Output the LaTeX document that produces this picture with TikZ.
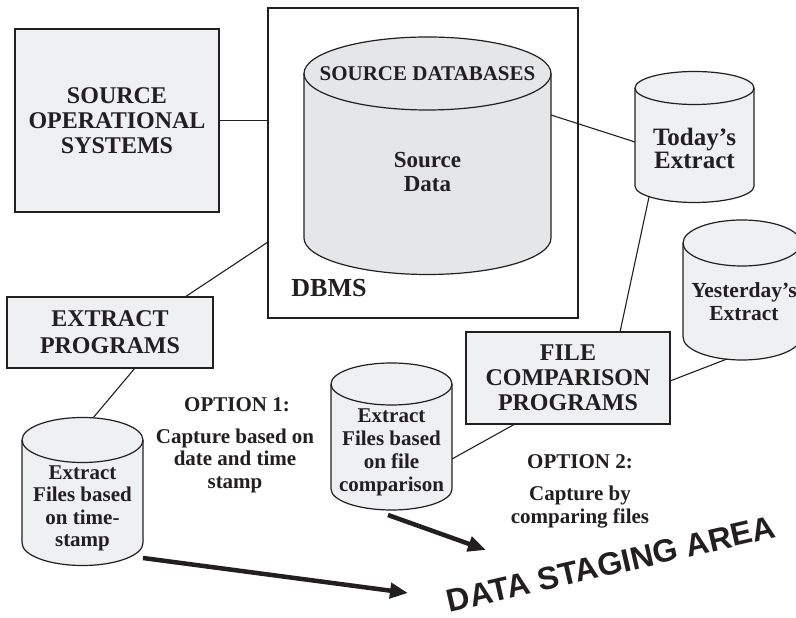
\documentclass[tikz,border=0pt]{standalone}
\usepackage{fontspec}
\setmainfont{Liberation Serif}
\newfontfamily\arialfont{Liberation Sans}
\usetikzlibrary{arrows.meta}
\definecolor{boxfill}{RGB}{238,240,242}
\definecolor{dbfill}{RGB}{229,230,232}
\definecolor{ink}{RGB}{35,31,32}
% cx, top-centre y, bottom-centre y, rx, ry, fill
\newcommand\drawcyl[6]{%
  \fill[#6] (#1-#4,#2) -- (#1-#4,#3) arc[start angle=180,end angle=360,x radius=#4,y radius=#5] -- (#1+#4,#2) arc[start angle=0,end angle=180,x radius=#4,y radius=#5] -- cycle;
  \draw[cylline] (#1-#4,#2) -- (#1-#4,#3) arc[start angle=180,end angle=360,x radius=#4,y radius=#5] -- (#1+#4,#2);
  \draw[cylline] (#1,#2) ellipse[x radius=#4,y radius=#5];
}
\begin{document}
\begin{tikzpicture}[x=1pt,y=1pt,
  box/.style={draw=ink, line width=1.2pt, fill=boxfill, align=center, inner sep=0pt, text=ink, font=\fontsize{24}{25}\selectfont\bfseries},
  cylline/.style={draw=ink, line width=1.2pt},
  conn/.style={draw=ink, line width=1.1pt},
  bigarrow/.style={draw=ink, line width=4.5pt, -{Triangle[length=18pt,width=15pt]}},
  lbl/.style={align=center, inner sep=0pt, text=ink},
 ]
\useasboundingbox (0,0) rectangle (796,618);
\clip (0,0) rectangle (796,618);
\fill[white] (0,0) rectangle (796,618);

% DBMS container
\node[draw=ink, line width=1.2pt, fill=white, minimum width=310pt, minimum height=310pt, inner sep=0pt] (dbms) at (423,455) {};
\node[lbl, font=\fontsize{26}{28}\selectfont\bfseries] (dbmslbl) at (329,330) {DBMS};

% boxes
\node[box, minimum width=204pt, minimum height=183pt] (sos) at (117,497.5) {SOURCE\\OPERATIONAL\\SYSTEMS};
\node[box, minimum width=206pt, minimum height=71pt, font=\fontsize{24}{27}\selectfont\bfseries] (xprog) at (110,285.5) {EXTRACT\\PROGRAMS};
\node[box, minimum width=204pt, minimum height=92pt] (fcomp) at (568,240) {FILE\\COMPARISON\\PROGRAMS};

% cylinders
\drawcyl{427.5}{544.5}{380}{123.5}{36.5}{dbfill}
\drawcyl{694.5}{530}{432}{59.5}{16.5}{boxfill}
\drawcyl{742}{375}{281}{59}{23}{boxfill}
\drawcyl{82.5}{178}{75}{60.5}{22.5}{boxfill}
\drawcyl{391.5}{234}{129}{60.5}{21}{boxfill}

% cylinder texts
\node[lbl, font=\fontsize{21}{23}\selectfont\bfseries] (srcdbt) at (427.5,544.5) {SOURCE DATABASES};
\node[lbl, font=\fontsize{23}{24}\selectfont\bfseries] (srcdata) at (427.5,446) {Source\\Data};
\node[lbl, font=\fontsize{25}{23}\selectfont\bfseries] (today) at (694.5,470) {Today's\\Extract};
\node[lbl, font=\fontsize{21.5}{23}\selectfont\bfseries] (yest) at (744,316) {Yesterday's\\Extract};
\node[lbl, font=\fontsize{21}{22.5}\selectfont\bfseries] (tscyl) at (82.5,109.5) {Extract\\Files based\\on time-\\stamp};
\node[lbl, font=\fontsize{21}{23}\selectfont\bfseries] (fccyl) at (391.5,165.5) {Extract\\Files based\\on file\\comparison};

% option texts
\node[lbl, font=\fontsize{21}{23}\selectfont\bfseries] (opt1t) at (237,213) {OPTION 1:};
\node[lbl, font=\fontsize{21}{22.5}\selectfont\bfseries] (opt1b) at (235,157.5) {Capture based on\\date and time\\stamp};
\node[lbl, font=\fontsize{21}{23}\selectfont\bfseries] (opt2t) at (580,156) {OPTION 2:};
\node[lbl, font=\fontsize{21}{22.5}\selectfont\bfseries] (opt2b) at (580,111) {Capture by\\comparing files};

\node[lbl, rotate=13, font=\arialfont\bfseries\fontsize{32}{34}\selectfont] (dsa) at (611,54) {DATA STAGING AREA};

% connection points
\coordinate (dbmsW2) at (268,376);
\coordinate (xprogN) at (185,321);
\coordinate (srcdbE) at (551,503);
\coordinate (todayW) at (635,476);
\coordinate (todayS) at (649,421);
\coordinate (fcompN) at (620,286);
\coordinate (fcompE) at (670,237);
\coordinate (yestS) at (727,259);
\coordinate (fcompS) at (515,194);
\coordinate (fccylE) at (452,159);
\coordinate (xprogS) at (135,250);
\coordinate (tscylN) at (93,200);

\draw[conn] (sos.east) -- (sos.east -| dbms.west);
\draw[conn] (dbmsW2) -- (xprogN);
\draw[conn] (srcdbE) -- (todayW);
\draw[conn] (todayS) -- (fcompN);
\draw[conn] (fcompE) -- (yestS);
\draw[conn] (fcompS) -- (fccylE);
\draw[conn] (xprogS) -- (tscylN);

% big arrows
\coordinate (a1s) at (143,60);
\coordinate (a1e) at (408,25);
\coordinate (a2s) at (388,103);
\coordinate (a2e) at (486,68);
\draw[bigarrow] (a1s) -- (a1e);
\draw[bigarrow] (a2s) -- (a2e);
\end{tikzpicture}
\end{document}
